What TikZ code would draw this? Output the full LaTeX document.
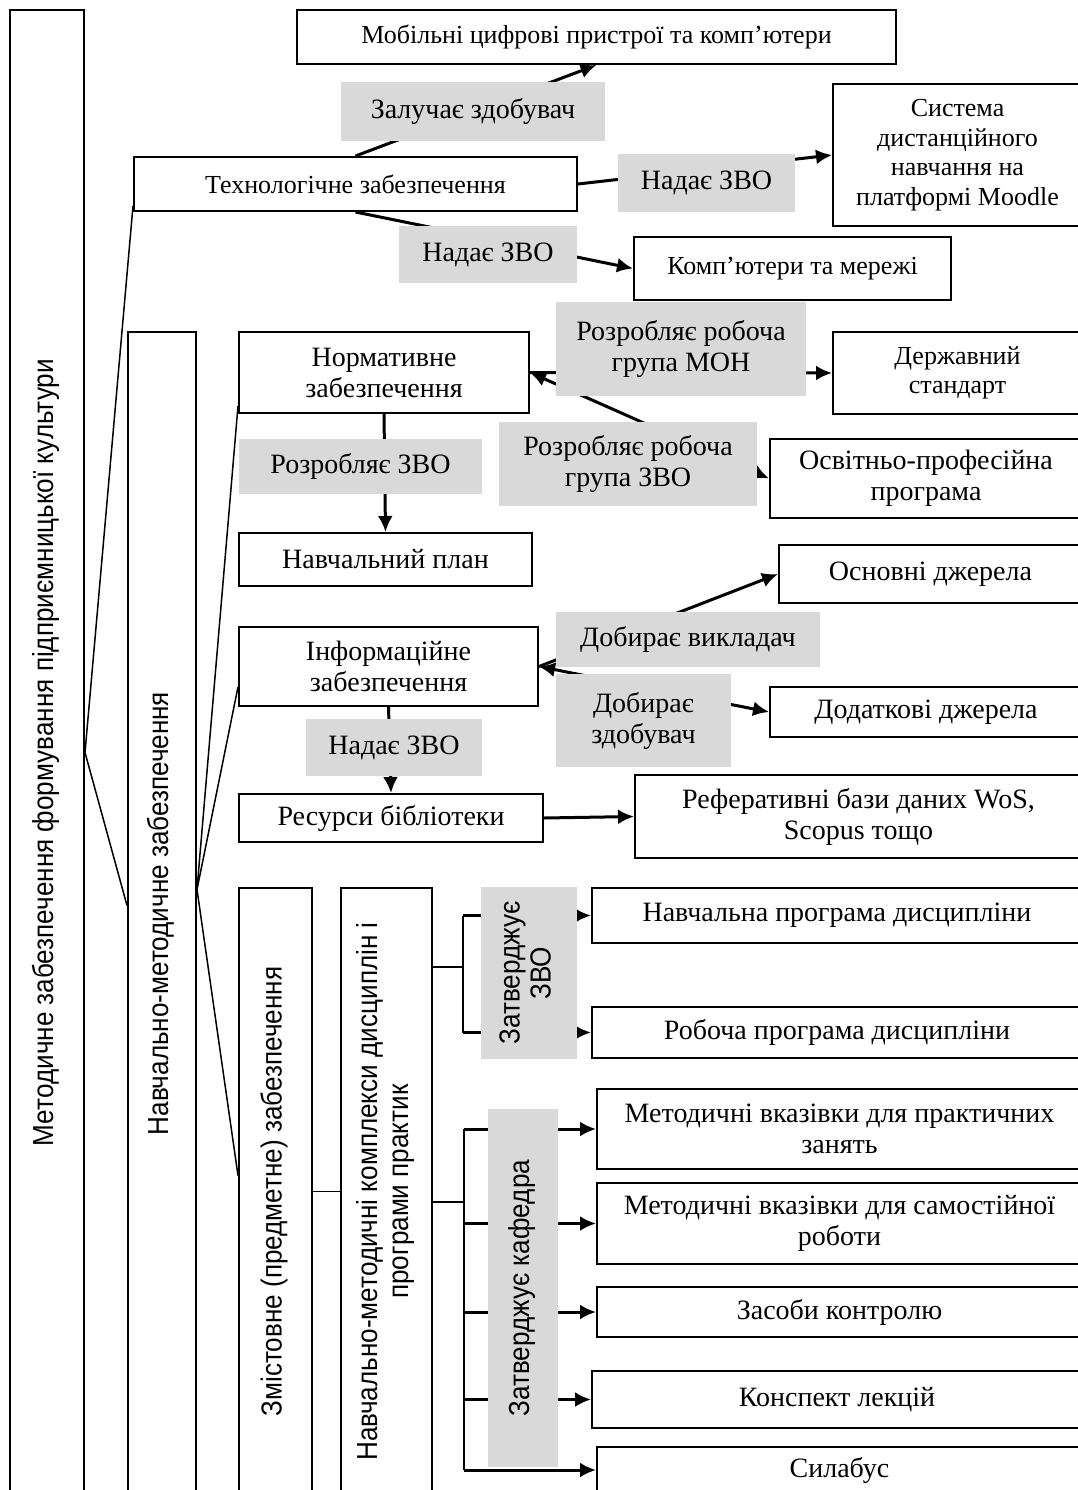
\documentclass[tikz,border=0pt]{standalone}
\usepackage{fontspec}
\usepackage{graphicx}
\setmainfont{Liberation Serif}
\newfontfamily\narrowsf[FakeStretch=0.9]{Liberation Sans}
\usetikzlibrary{arrows.meta}
\definecolor{tagfill}{RGB}{217,217,217}
\newcommand{\smallfs}{\fontsize{26}{29.5}\selectfont}
\newcommand{\normalfs}{\fontsize{28}{31}\selectfont}
\newcommand{\vertfs}{\narrowsf\fontsize{29}{31}\selectfont}
\newcommand{\vtext}[1]{\rotatebox{90}{\begin{tabular}{@{}c@{}}#1\end{tabular}}}
\tikzset{
  box/.style={draw, line width=2pt, fill=white, align=center, inner sep=0pt, font=\normalfs},
  vbox/.style={box, font=\vertfs},
  tag/.style={fill=tagfill, align=center, inner sep=0pt, font=\normalfs},
  sz/.style 2 args={minimum width=#1pt, minimum height=#2pt},
  link/.style={line width=1.5pt},
  conn/.style={line width=3pt, ->},
}
\begin{document}
\begin{tikzpicture}[x=1pt, y=-1pt, >={Latex[length=16pt,width=15pt]}]
\path[use as bounding box, fill=white] (0,0) rectangle (1078,1490);
% vertical columns
\node[vbox, sz={74}{1485}] (main) at (47,752.5) {\vtext{Методичне забезпечення формування підприємницької культури}};
\node[vbox, sz={68}{1163}] (nmz) at (162,913.5) {\vtext{Навчально-методичне забезпечення}};
\node[vbox, sz={73}{607}] (zmist) at (275.5,1191.5) {\vtext{Змістовне (предметне) забезпечення}};
\node[vbox, sz={91}{607}] (nmk) at (386.5,1191.5) {\vtext{Навчально-методичні комплекси дисциплін і\\програми практик}};
% technological support
\node[box, font=\smallfs, sz={599}{54}] (mobile) at (596.5,37) {Мобільні цифрові пристрої та комп’ютери};
\node[box, font=\smallfs, sz={443}{54}] (tech) at (355.5,184) {Технологічне забезпечення};
\node[box, font=\smallfs, sz={249}{142}] (moodle) at (957.5,155) {Система\\дистанційного\\навчання на\\платформі Moodle};
\node[box, font=\smallfs, sz={317}{63}] (comp) at (792.5,268.5) {Комп’ютери та мережі};
% normative support
\node[box, sz={290}{81}] (norm) at (384,372.5) {Нормативне\\забезпечення};
\node[box, font=\smallfs, sz={249}{82}] (derzh) at (957.5,373) {Державний\\стандарт};
\node[box, sz={312}{79}] (opp) at (926,478.5) {Освітньо-професійна\\програма};
\node[box, sz={293}{53}] (plan) at (385.5,559.5) {Навчальний план};
% information support
\node[box, sz={303}{58}] (osn) at (930.5,574) {Основні джерела};
\node[box, sz={299}{79}] (inf) at (388.5,666.5) {Інформаційне\\забезпечення};
\node[box, sz={312}{50}] (dod) at (926,712) {Додаткові джерела};
\node[box, sz={304}{48}] (res) at (391,818) {Ресурси бібліотеки};
\node[box, sz={447}{83}] (ref) at (858.5,816.5) {Реферативні бази даних WoS,\\Scopus тощо};
% content support
\node[box, sz={490}{55}] (prog) at (837,915.5) {Навчальна програма дисципліни};
\node[box, sz={490}{51}] (rprog) at (837,1032.5) {Робоча програма дисципліни};
\node[box, sz={485}{80}] (mv1) at (839.5,1129) {Методичні вказівки для практичних\\занять};
\node[box, sz={485}{81}] (mv2) at (839.5,1223.5) {Методичні вказівки для самостійної\\роботи};
\node[box, sz={485}{50}] (zk) at (839.5,1312) {Засоби контролю};
\node[box, sz={490}{57}] (kl) at (837,1399.5) {Конспект лекцій};
\node[box, sz={485}{46}] (syl) at (839.5,1470) {Силабус};
% hierarchy lines
\draw[link] (main.east) -- ([yshift=6pt]tech.south west);
\draw[link] (main.east) -- ([yshift=8pt]nmz.west);
\draw[link] ([yshift=24pt]nmz.east) -- ([yshift=8pt]norm.south west);
\draw[link] ([yshift=24pt]nmz.east) -- ([yshift=20pt]inf.south west);
\draw[link] ([yshift=24pt]nmz.east) -- ([yshift=16pt]zmist.west);
\draw[link] (zmist.east) -- (nmk.west);
% arrows
\draw[conn] (tech.north) -- (mobile.south);
\draw[conn] (tech.east) -- (moodle.west);
\draw[conn] (tech.south) -- (comp.west);
\draw[conn] (norm.east) -- (derzh.west);
\draw[conn, <->] (norm.east) -- (opp.west);
\draw[conn] (norm.south) -- (plan.north);
\draw[conn] (inf.east) -- (osn.west);
\draw[conn, <->] (inf.east) -- (dod.west);
\draw[conn] (inf.south) -- (res.north);
\draw[conn] (res.east) -- (ref.west);
% forks
\coordinate (zvoFork) at (463,967);
\draw[link] (zvoFork -| nmk.east) -- (zvoFork);
\draw[link] (zvoFork |- prog.west) -- (zvoFork |- rprog.west);
\foreach \t in {prog,rprog}
  \draw[conn] (zvoFork |- \t.west) -- (\t.west);
\coordinate (kafFork) at (464,1202);
\draw[link] (kafFork -| nmk.east) -- (kafFork);
\draw[link] (kafFork |- mv1.west) -- (kafFork |- syl.west);
\foreach \t in {mv1,mv2,zk,kl,syl}
  \draw[conn] (kafFork |- \t.west) -- (\t.west);
% grey labels
\node[tag, sz={264}{59}] (zaluch) at (473,111.5) {Залучає здобувач};
\node[tag, sz={177}{58}] (nadMoodle) at (706.5,183) {Надає ЗВО};
\node[tag, sz={178}{57}] (nadComp) at (488,254.5) {Надає ЗВО};
\node[tag, sz={250}{94}] (rozMon) at (681,349) {Розробляє робоча\\група МОН};
\node[tag, sz={258}{84}] (rozGrZvo) at (628,464) {Розробляє робоча\\група ЗВО};
\node[tag, sz={243}{55}] (rozZvo) at (360.5,466.5) {Розробляє ЗВО};
\node[tag, sz={264}{55}] (dobVykl) at (688,639.5) {Добирає викладач};
\node[tag, sz={175}{93}] (dobZdob) at (643.5,720.5) {Добирає\\здобувач};
\node[tag, sz={176}{57}] (nadRes) at (394,747.5) {Надає ЗВО};
\node[tag, font=\vertfs, sz={96}{172}] (zatvZvo) at (529,973) {\vtext{Затверджує\\ЗВО}};
\node[tag, font=\vertfs, sz={70}{358}] (zatvKaf) at (523,1288) {\vtext{Затверджує кафедра}};
\end{tikzpicture}
\end{document}
